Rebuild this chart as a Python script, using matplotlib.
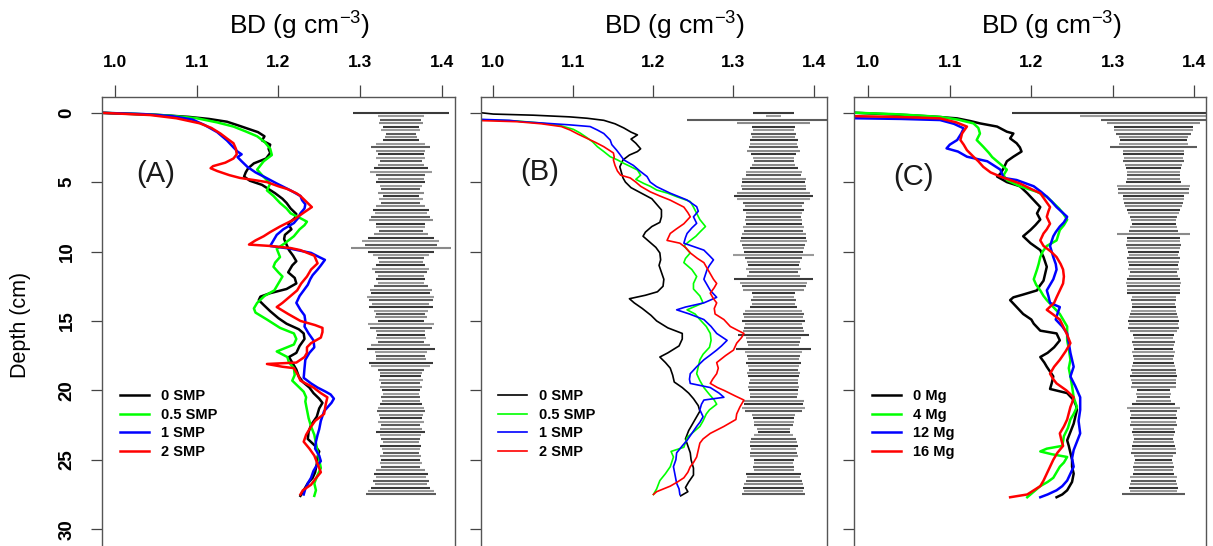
import os
os.environ.setdefault("MPLBACKEND", "Agg")
import matplotlib.pyplot as plt
import numpy as np

plt.rcParams["font.family"] = ["Liberation Sans", "DejaVu Sans"]
plt.rcParams["mathtext.fontset"] = "custom"
plt.rcParams["mathtext.rm"] = "Liberation Sans"
plt.rcParams["mathtext.default"] = "regular"

LINE_COLORS = ["black", "#00ff00", "#0000ff", "#ff0000"]
BAR_COLORS = ["#3a3a3a", "#9a9a9a", "#5c5c5c", "#8a8a8a"]
BAR_CENTER = 1.35
BAR_STEP = 0.25
XTICKS = [1.0, 1.1, 1.2, 1.3, 1.4]
XTICK_LABELS = ["1.0", "1.1", "1.2", "1.3", "1.4"]
YTICKS = [0, 5, 10, 15, 20, 25, 30]
SMP_LABELS = ["0 SMP", "0.5 SMP", "1 SMP", "2 SMP"]
MG_LABELS = ["0 Mg", "4 Mg", "12 Mg", "16 Mg"]

# (depth cm, BD g cm-3)
A_0SMP = [(0.0, 0.98), (0.05, 1.0), (0.15, 1.05), (0.3, 1.09), (0.45, 1.115), (0.65, 1.137), (0.9, 1.15), (1.1, 1.16),
          (1.4, 1.175), (1.7, 1.183), (2.0, 1.18), (2.3, 1.19), (2.6, 1.188), (2.9, 1.19), (3.3, 1.185), (3.65, 1.17),
          (4.0, 1.163), (4.3, 1.16), (4.6, 1.158), (4.9, 1.165), (5.2, 1.18), (5.5, 1.188), (5.8, 1.196), (6.2, 1.205),
          (6.5, 1.21), (6.9, 1.215), (7.3, 1.222), (7.6, 1.22), (8.0, 1.212), (8.4, 1.216), (8.8, 1.208), (9.1, 1.207),
          (9.5, 1.21), (9.9, 1.213), (10.3, 1.218), (10.7, 1.222), (11.0, 1.217), (11.5, 1.212), (11.9, 1.22),
          (12.3, 1.222), (12.7, 1.21), (13.0, 1.19), (13.25, 1.178), (13.5, 1.176), (13.85, 1.182), (14.3, 1.19),
          (14.8, 1.2), (15.2, 1.21), (15.6, 1.225), (15.9, 1.231), (16.3, 1.232), (16.8, 1.226), (17.3, 1.222),
          (17.6, 1.213), (18.0, 1.217), (18.5, 1.222), (19.0, 1.225), (19.4, 1.23), (19.8, 1.238), (20.2, 1.243),
          (20.6, 1.25), (20.9, 1.254), (21.3, 1.25), (21.9, 1.247), (22.5, 1.24), (23.0, 1.237), (23.5, 1.236),
          (24.0, 1.245), (24.4, 1.25), (24.8, 1.248), (25.3, 1.247), (25.9, 1.245), (26.3, 1.242), (26.7, 1.236),
          (27.1, 1.232), (27.6, 1.227)]
A_05SMP = [(0.0, 0.98), (0.1, 1.03), (0.2, 1.065), (0.4, 1.1), (0.7, 1.125), (1.0, 1.145), (1.35, 1.16), (1.7, 1.174),
           (2.1, 1.183), (2.6, 1.19), (3.05, 1.192), (3.5, 1.182), (3.8, 1.178), (4.1, 1.174), (4.5, 1.18), (5.1, 1.19),
           (5.6, 1.186), (6.0, 1.194), (6.5, 1.202), (6.9, 1.21), (7.25, 1.215), (7.6, 1.227), (7.85, 1.235),
           (8.1, 1.232), (8.4, 1.226), (8.9, 1.219), (9.4, 1.208), (9.8, 1.198), (10.1, 1.2), (10.4, 1.202),
           (10.8, 1.196), (11.1, 1.194), (11.5, 1.2), (11.8, 1.205), (12.3, 1.2), (12.8, 1.195), (13.2, 1.183),
           (13.7, 1.174), (14.1, 1.17), (14.4, 1.172), (14.9, 1.186), (15.5, 1.202), (15.9, 1.219), (16.3, 1.222),
           (16.7, 1.219), (17.2, 1.198), (17.6, 1.211), (18.0, 1.213), (18.4, 1.219), (18.9, 1.22), (19.3, 1.217),
           (19.7, 1.224), (20.1, 1.231), (20.5, 1.234), (20.8, 1.233), (21.4, 1.235), (22.0, 1.237), (22.6, 1.24),
           (23.2, 1.244), (23.8, 1.246), (24.4, 1.248), (25.0, 1.25), (25.6, 1.252), (26.1, 1.248), (26.7, 1.244),
           (27.2, 1.246), (27.6, 1.244)]
A_1SMP = [(0.0, 0.98), (0.1, 1.035), (0.25, 1.07), (0.5, 1.095), (0.9, 1.11), (1.4, 1.125), (2.0, 1.137), (2.5, 1.145),
          (2.8, 1.15), (3.0, 1.155), (3.2, 1.15), (3.5, 1.155), (3.9, 1.162), (4.3, 1.172), (4.6, 1.182), (5.1, 1.198),
          (5.6, 1.215), (6.0, 1.227), (6.3, 1.229), (6.6, 1.233), (6.9, 1.232), (7.25, 1.227), (7.6, 1.224),
          (7.95, 1.219), (8.4, 1.206), (8.8, 1.198), (9.2, 1.194), (9.6, 1.19), (9.8, 1.215), (10.1, 1.24),
          (10.4, 1.25), (10.6, 1.257), (11.0, 1.252), (11.3, 1.248), (11.7, 1.242), (12.0, 1.239), (12.4, 1.236),
          (12.8, 1.231), (13.2, 1.226), (13.7, 1.222), (14.2, 1.227), (14.6, 1.232), (15.0, 1.233), (15.4, 1.232),
          (15.9, 1.237), (16.4, 1.243), (16.9, 1.244), (17.3, 1.238), (17.8, 1.233), (18.4, 1.232), (19.1, 1.231),
          (19.5, 1.24), (19.8, 1.248), (20.1, 1.258), (20.3, 1.264), (20.6, 1.268), (20.9, 1.265), (21.5, 1.256),
          (22.2, 1.252), (22.8, 1.25), (23.2, 1.248), (23.7, 1.246), (24.2, 1.245), (24.7, 1.25), (25.1, 1.252),
          (25.5, 1.246), (25.8, 1.243), (26.3, 1.24), (26.7, 1.236), (27.1, 1.233), (27.5, 1.231)]
A_2SMP = [(0.0, 0.98), (0.17, 1.043), (0.4, 1.075), (0.77, 1.104), (1.1, 1.118), (1.5, 1.129), (1.9, 1.138),
          (2.2, 1.145), (2.6, 1.148), (3.0, 1.149), (3.3, 1.145), (3.6, 1.135), (3.85, 1.12), (4.0, 1.117),
          (4.2, 1.125), (4.5, 1.14), (4.7, 1.153), (4.85, 1.17), (5.0, 1.186), (5.3, 1.2), (5.5, 1.211), (5.8, 1.222),
          (6.0, 1.227), (6.4, 1.234), (6.8, 1.241), (7.0, 1.236), (7.2, 1.231), (7.7, 1.219), (8.2, 1.202),
          (8.6, 1.19), (8.9, 1.182), (9.2, 1.172), (9.5, 1.164), (9.6, 1.19), (9.75, 1.215), (9.9, 1.227),
          (10.3, 1.244), (10.85, 1.248), (11.3, 1.24), (11.8, 1.235), (12.3, 1.228), (12.8, 1.223), (13.2, 1.215),
          (13.7, 1.205), (14.0, 1.198), (14.5, 1.212), (15.0, 1.227), (15.3, 1.245), (15.5, 1.254), (15.8, 1.254),
          (16.2, 1.252), (16.6, 1.24), (16.9, 1.235), (17.3, 1.235), (17.6, 1.232), (18.0, 1.222), (18.1, 1.186),
          (18.3, 1.205), (18.4, 1.219), (18.9, 1.224), (19.3, 1.227), (19.8, 1.243), (20.2, 1.252), (20.5, 1.26),
          (21.0, 1.258), (21.7, 1.256), (22.2, 1.245), (22.7, 1.239), (23.2, 1.234), (23.7, 1.231), (24.2, 1.238),
          (24.7, 1.244), (25.3, 1.248), (25.9, 1.252), (26.4, 1.245), (26.8, 1.24), (27.2, 1.23), (27.5, 1.227)]

B_0SMP = [(0.0, 0.984), (0.1, 1.0), (0.18, 1.05), (0.3, 1.095), (0.4, 1.117), (0.55, 1.138), (0.8, 1.152), (1.1, 1.163),
          (1.4, 1.172), (1.6, 1.18), (1.9, 1.172), (2.2, 1.178), (2.6, 1.184), (2.8, 1.18), (3.05, 1.17), (3.4, 1.162),
          (3.9, 1.158), (4.3, 1.16), (4.7, 1.162), (5.0, 1.165), (5.4, 1.172), (5.8, 1.185), (6.2, 1.198), (6.6, 1.204),
          (7.0, 1.21), (7.5, 1.21), (7.9, 1.208), (8.2, 1.198), (8.6, 1.19), (8.9, 1.187), (9.3, 1.195), (9.7, 1.203),
          (10.1, 1.208), (10.6, 1.209), (11.0, 1.207), (11.5, 1.21), (12.0, 1.213), (12.5, 1.212), (12.9, 1.205),
          (13.15, 1.19), (13.4, 1.17), (13.7, 1.176), (14.1, 1.186), (14.6, 1.197), (15.0, 1.204), (15.5, 1.218),
          (15.9, 1.236), (16.3, 1.236), (16.8, 1.232), (17.3, 1.218), (17.6, 1.208), (18.0, 1.215), (18.4, 1.221),
          (18.9, 1.224), (19.4, 1.226), (19.8, 1.236), (20.2, 1.244), (20.6, 1.25), (21.1, 1.256), (21.5, 1.258),
          (21.9, 1.254), (22.4, 1.249), (22.9, 1.244), (23.5, 1.24), (24.0, 1.243), (24.5, 1.246), (25.0, 1.247),
          (25.6, 1.25), (26.1, 1.25), (26.6, 1.244), (27.0, 1.24), (27.3, 1.243), (27.6, 1.234)]
B_05SMP = [(0.5, 0.984), (0.6, 1.03), (0.75, 1.06), (0.95, 1.085), (1.2, 1.1), (1.45, 1.108), (1.8, 1.117),
           (2.1, 1.124), (2.45, 1.13), (2.8, 1.138), (3.17, 1.146), (3.4, 1.155), (3.65, 1.163), (3.9, 1.172),
           (4.13, 1.18), (4.5, 1.184), (4.8, 1.178), (5.1, 1.188), (5.3, 1.196), (5.57, 1.204), (5.8, 1.218),
           (6.05, 1.229), (6.4, 1.246), (6.8, 1.25), (7.25, 1.254), (7.7, 1.258), (8.2, 1.265), (8.6, 1.258),
           (8.9, 1.253), (9.3, 1.244), (9.6, 1.238), (10.1, 1.246), (10.5, 1.24), (10.8, 1.238), (11.3, 1.248),
           (11.8, 1.254), (12.3, 1.25), (12.7, 1.25), (13.2, 1.258), (13.7, 1.262), (14.0, 1.25), (14.2, 1.242),
           (14.5, 1.252), (14.9, 1.258), (15.4, 1.266), (15.9, 1.271), (16.4, 1.272), (16.9, 1.27), (17.4, 1.262),
           (17.8, 1.258), (18.3, 1.256), (18.8, 1.254), (19.3, 1.258), (19.8, 1.263), (20.3, 1.27), (20.7, 1.276),
           (21.0, 1.279), (21.4, 1.27), (21.7, 1.266), (22.2, 1.262), (22.6, 1.258), (23.0, 1.25), (23.4, 1.242),
           (24.1, 1.238), (24.4, 1.222), (24.8, 1.225), (25.5, 1.221), (26.0, 1.215), (26.5, 1.208), (27.1, 1.204),
           (27.5, 1.2)]
B_1SMP = [(0.48, 0.984), (0.55, 1.02), (0.64, 1.034), (0.88, 1.096), (1.0, 1.121), (1.25, 1.13), (1.5, 1.138),
          (1.97, 1.146), (2.3, 1.148), (2.7, 1.154), (3.0, 1.158), (3.4, 1.163), (3.8, 1.175), (4.2, 1.183),
          (4.6, 1.192), (5.0, 1.196), (5.33, 1.204), (5.8, 1.221), (6.29, 1.242), (6.77, 1.254), (7.1, 1.256),
          (7.5, 1.25), (7.97, 1.254), (8.3, 1.248), (8.7, 1.242), (9.0, 1.24), (9.4, 1.238), (9.9, 1.263),
          (10.3, 1.27), (10.6, 1.275), (11.0, 1.27), (11.3, 1.267), (12.0, 1.263), (12.5, 1.268), (12.8, 1.271),
          (13.3, 1.279), (13.7, 1.263), (14.0, 1.24), (14.2, 1.229), (14.5, 1.245), (14.9, 1.263), (15.4, 1.272),
          (15.9, 1.279), (16.4, 1.292), (16.8, 1.285), (17.1, 1.279), (17.5, 1.27), (17.8, 1.263), (18.3, 1.254),
          (18.8, 1.246), (19.2, 1.245), (19.5, 1.246), (19.8, 1.271), (20.2, 1.282), (20.5, 1.288), (20.7, 1.263),
          (21.0, 1.26), (21.4, 1.258), (21.9, 1.262), (22.3, 1.258), (22.6, 1.254), (23.1, 1.248), (23.6, 1.242),
          (24.0, 1.236), (24.5, 1.229), (25.0, 1.228), (25.5, 1.225), (26.1, 1.227), (26.7, 1.229), (27.1, 1.232),
          (27.5, 1.233)]
B_2SMP = [(0.57, 0.984), (0.65, 1.03), (0.8, 1.06), (1.0, 1.085), (1.25, 1.096), (1.55, 1.106), (1.85, 1.117),
          (2.15, 1.128), (2.45, 1.138), (2.9, 1.15), (3.2, 1.151), (3.4, 1.15), (3.8, 1.152), (4.2, 1.155),
          (4.5, 1.159), (4.7, 1.171), (5.0, 1.178), (5.3, 1.184), (5.7, 1.196), (6.0, 1.208), (6.3, 1.221),
          (6.8, 1.238), (7.2, 1.243), (7.5, 1.246), (8.0, 1.238), (8.4, 1.228), (8.7, 1.221), (9.2, 1.217),
          (9.4, 1.233), (9.7, 1.24), (10.1, 1.246), (10.5, 1.255), (10.8, 1.263), (11.2, 1.267), (11.6, 1.271),
          (12.0, 1.275), (12.3, 1.279), (12.6, 1.276), (13.0, 1.271), (13.4, 1.275), (13.7, 1.279), (14.1, 1.276),
          (14.5, 1.277), (14.9, 1.288), (15.4, 1.296), (15.7, 1.306), (15.9, 1.313), (16.2, 1.31), (16.6, 1.304),
          (17.1, 1.3), (17.5, 1.29), (18.0, 1.279), (18.4, 1.281), (18.8, 1.279), (19.2, 1.274), (19.5, 1.271),
          (19.8, 1.28), (20.0, 1.288), (20.4, 1.302), (20.7, 1.313), (21.2, 1.308), (21.7, 1.304), (22.1, 1.303),
          (22.6, 1.288), (23.1, 1.271), (23.5, 1.262), (23.8, 1.258), (24.3, 1.256), (24.8, 1.254), (25.2, 1.25),
          (25.5, 1.246), (25.9, 1.243), (26.3, 1.238), (26.6, 1.23), (26.9, 1.221), (27.3, 1.204), (27.5, 1.2)]

C_0MG = [(0.0, 0.982), (0.05, 1.0), (0.17, 1.047), (0.3, 1.085), (0.41, 1.109), (0.6, 1.125), (0.77, 1.137),
         (1.0, 1.158), (1.37, 1.17), (1.5, 1.178), (1.85, 1.174), (2.2, 1.182), (2.5, 1.186), (2.8, 1.188),
         (3.17, 1.178), (3.5, 1.17), (4.0, 1.166), (4.4, 1.162), (4.6, 1.158), (5.0, 1.17), (5.3, 1.186), (5.8, 1.195),
         (6.3, 1.203), (6.8, 1.211), (7.25, 1.207), (7.7, 1.211), (8.1, 1.205), (8.45, 1.199), (8.9, 1.19),
         (9.4, 1.199), (9.9, 1.211), (10.4, 1.215), (11.1, 1.219), (11.6, 1.217), (12.1, 1.215), (12.5, 1.21),
         (12.8, 1.207), (13.1, 1.19), (13.3, 1.178), (13.5, 1.174), (14.0, 1.182), (14.5, 1.19), (14.9, 1.2),
         (15.2, 1.203), (15.7, 1.211), (15.9, 1.231), (16.4, 1.235), (16.9, 1.228), (17.3, 1.22), (17.6, 1.211),
         (18.0, 1.216), (18.3, 1.219), (19.0, 1.227), (19.5, 1.225), (19.9, 1.223), (20.2, 1.244), (20.7, 1.252),
         (21.1, 1.255), (21.4, 1.256), (21.9, 1.254), (22.4, 1.252), (23.0, 1.248), (23.6, 1.244), (24.0, 1.246),
         (24.5, 1.248), (25.0, 1.25), (25.5, 1.25), (26.0, 1.252), (26.6, 1.25), (27.2, 1.244), (27.5, 1.238),
         (27.7, 1.231)]
C_4MG = [(0.0, 0.982), (0.1, 1.03), (0.2, 1.06), (0.3, 1.088), (0.5, 1.11), (0.77, 1.129), (1.1, 1.135), (1.5, 1.137),
         (1.97, 1.133), (2.45, 1.141), (2.9, 1.148), (3.2, 1.152), (3.5, 1.158), (4.1, 1.17), (4.5, 1.166),
         (4.85, 1.17), (5.3, 1.186), (5.7, 1.207), (6.05, 1.219), (6.5, 1.227), (6.9, 1.234), (7.25, 1.239),
         (7.7, 1.244), (8.1, 1.24), (8.45, 1.235), (9.2, 1.231), (9.6, 1.219), (10.0, 1.214), (10.4, 1.211),
         (10.9, 1.209), (11.3, 1.207), (12.0, 1.203), (12.4, 1.206), (12.8, 1.211), (13.2, 1.215), (13.5, 1.219),
         (14.0, 1.227), (14.5, 1.235), (15.0, 1.24), (15.4, 1.244), (16.0, 1.244), (16.4, 1.244), (17.0, 1.246),
         (17.8, 1.248), (18.4, 1.246), (19.0, 1.248), (19.7, 1.25), (20.5, 1.252), (21.2, 1.256), (21.7, 1.252),
         (22.1, 1.248), (22.7, 1.245), (23.3, 1.24), (24.0, 1.238), (24.2, 1.219), (24.4, 1.211), (24.6, 1.225),
         (24.8, 1.244), (25.2, 1.24), (25.5, 1.235), (26.0, 1.23), (26.3, 1.227), (26.6, 1.22), (26.9, 1.211),
         (27.3, 1.203), (27.7, 1.195)]
C_12MG = [(0.4, 0.982), (0.45, 1.04), (0.53, 1.088), (0.8, 1.105), (1.13, 1.117), (1.5, 1.114), (1.97, 1.109),
          (2.3, 1.1), (2.57, 1.096), (2.8, 1.11), (3.17, 1.121), (3.5, 1.146), (4.1, 1.162), (4.7, 1.166),
          (4.85, 1.182), (5.3, 1.203), (5.7, 1.212), (6.05, 1.219), (6.4, 1.225), (6.8, 1.231), (7.5, 1.244),
          (7.9, 1.24), (8.2, 1.235), (8.6, 1.23), (8.9, 1.227), (9.6, 1.223), (10.0, 1.225), (10.4, 1.227),
          (10.9, 1.23), (11.3, 1.231), (12.0, 1.227), (12.4, 1.223), (12.8, 1.219), (13.2, 1.221), (13.7, 1.223),
          (14.0, 1.235), (14.5, 1.232), (14.9, 1.23), (15.4, 1.238), (15.9, 1.244), (16.6, 1.246), (17.3, 1.248),
          (17.8, 1.25), (18.3, 1.252), (19.0, 1.248), (19.7, 1.254), (20.5, 1.26), (21.0, 1.26), (21.4, 1.26),
          (22.2, 1.258), (23.1, 1.26), (23.7, 1.256), (24.3, 1.252), (24.9, 1.25), (25.5, 1.252), (26.0, 1.248),
          (26.5, 1.244), (26.9, 1.238), (27.2, 1.231), (27.5, 1.22), (27.7, 1.211)]
C_16MG = [(0.25, 0.982), (0.3, 1.03), (0.35, 1.06), (0.41, 1.088), (0.7, 1.108), (1.0, 1.121), (1.5, 1.115),
          (1.97, 1.113), (2.3, 1.117), (2.7, 1.121), (3.17, 1.129), (3.5, 1.135), (3.9, 1.141), (4.3, 1.15),
          (4.6, 1.162), (5.1, 1.186), (5.5, 1.2), (5.8, 1.211), (6.3, 1.217), (6.8, 1.223), (7.1, 1.221), (7.5, 1.219),
          (8.0, 1.223), (8.4, 1.219), (8.7, 1.215), (9.2, 1.211), (9.6, 1.215), (10.0, 1.224), (10.4, 1.231),
          (10.9, 1.236), (11.3, 1.239), (11.8, 1.24), (12.3, 1.239), (12.8, 1.235), (13.3, 1.231), (13.7, 1.228),
          (14.2, 1.219), (14.5, 1.226), (14.9, 1.235), (15.5, 1.24), (16.0, 1.244), (16.6, 1.248), (17.2, 1.242),
          (17.8, 1.235), (18.3, 1.228), (18.8, 1.223), (19.2, 1.227), (19.5, 1.231), (20.0, 1.243), (20.5, 1.252),
          (20.9, 1.25), (21.2, 1.248), (22.1, 1.244), (22.6, 1.24), (23.1, 1.235), (23.6, 1.237), (24.0, 1.239),
          (24.5, 1.232), (25.0, 1.227), (25.5, 1.223), (26.0, 1.219), (26.5, 1.215), (26.9, 1.211), (27.2, 1.203),
          (27.5, 1.195), (27.7, 1.174)]

# half-widths of the spread bars (g cm-3), one every BAR_STEP cm from the surface
A_SPREAD = [0.059, 0.028, 0.025, 0.027, 0.022, 0.024, 0.018, 0.020, 0.022, 0.030, 0.036, 0.030, 0.028, 0.030, 0.026,
            0.028, 0.033, 0.038, 0.030, 0.028, 0.030, 0.026, 0.024, 0.028, 0.022, 0.027, 0.024, 0.030, 0.034, 0.032,
            0.036, 0.039, 0.030, 0.030, 0.027, 0.033, 0.040, 0.047, 0.044, 0.061, 0.040, 0.034, 0.028, 0.027, 0.030,
            0.035, 0.032, 0.028, 0.030, 0.028, 0.033, 0.038, 0.036, 0.041, 0.039, 0.035, 0.039, 0.033, 0.030, 0.032,
            0.028, 0.040, 0.038, 0.030, 0.029, 0.031, 0.028, 0.036, 0.042, 0.032, 0.030, 0.031, 0.039, 0.036, 0.028,
            0.026, 0.025, 0.027, 0.024, 0.026, 0.023, 0.022, 0.024, 0.023, 0.026, 0.028, 0.029, 0.027, 0.026, 0.028,
            0.024, 0.026, 0.030, 0.025, 0.024, 0.022, 0.025, 0.023, 0.022, 0.025, 0.024, 0.026, 0.024, 0.030, 0.033,
            0.031, 0.034, 0.032, 0.036, 0.040, 0.043]
B_SPREAD = [0.026, 0.009, 0.108, 0.046, 0.027, 0.026, 0.028, 0.027, 0.030, 0.029, 0.031, 0.033, 0.028, 0.026, 0.025,
            0.027, 0.030, 0.035, 0.034, 0.040, 0.039, 0.041, 0.040, 0.045, 0.049, 0.046, 0.038, 0.036, 0.038, 0.035,
            0.034, 0.036, 0.035, 0.038, 0.037, 0.040, 0.041, 0.042, 0.039, 0.038, 0.037, 0.050, 0.036, 0.033, 0.032,
            0.034, 0.031, 0.033, 0.049, 0.042, 0.040, 0.038, 0.027, 0.026, 0.028, 0.027, 0.029, 0.036, 0.038, 0.037,
            0.039, 0.036, 0.037, 0.038, 0.044, 0.034, 0.033, 0.032, 0.047, 0.036, 0.033, 0.032, 0.034, 0.032, 0.031,
            0.033, 0.032, 0.030, 0.031, 0.032, 0.031, 0.030, 0.029, 0.038, 0.037, 0.039, 0.036, 0.027, 0.026, 0.025,
            0.024, 0.021, 0.020, 0.024, 0.028, 0.029, 0.030, 0.028, 0.029, 0.030, 0.025, 0.024, 0.026, 0.025, 0.034,
            0.033, 0.035, 0.037, 0.038, 0.037, 0.039]
C_SPREAD = [0.174, 0.090, 0.065, 0.057, 0.049, 0.048, 0.046, 0.042, 0.041, 0.042, 0.053, 0.038, 0.037, 0.036, 0.038,
            0.035, 0.034, 0.033, 0.032, 0.033, 0.034, 0.045, 0.044, 0.043, 0.038, 0.037, 0.036, 0.035, 0.033, 0.031,
            0.029, 0.028, 0.027, 0.029, 0.030, 0.045, 0.033, 0.032, 0.034, 0.033, 0.031, 0.030, 0.032, 0.031, 0.030,
            0.031, 0.029, 0.030, 0.033, 0.034, 0.032, 0.033, 0.032, 0.027, 0.028, 0.026, 0.027, 0.028, 0.029, 0.030,
            0.031, 0.030, 0.031, 0.029, 0.025, 0.024, 0.026, 0.025, 0.024, 0.026, 0.025, 0.024, 0.025, 0.026, 0.028,
            0.027, 0.029, 0.028, 0.027, 0.028, 0.020, 0.021, 0.020, 0.022, 0.026, 0.033, 0.029, 0.028, 0.029, 0.028,
            0.029, 0.025, 0.026, 0.025, 0.024, 0.025, 0.026, 0.027, 0.028, 0.024, 0.023, 0.024, 0.025, 0.024, 0.025,
            0.029, 0.028, 0.029, 0.030, 0.029, 0.039]

W, H = 1213, 546
PANELS = [
    dict(tag="(A)", series=[A_0SMP, A_05SMP, A_1SMP, A_2SMP], labels=SMP_LABELS, spread=A_SPREAD,
         px=(102, 455), xlim=(0.984, 1.4163), lw=1.8, tag_xy=(1.05, 4.4), leg_x=120, ylabels=True),
    dict(tag="(B)", series=[B_0SMP, B_05SMP, B_1SMP, B_2SMP], labels=SMP_LABELS, spread=B_SPREAD,
         px=(481, 827), xlim=(0.9846, 1.4168), lw=1.2, tag_xy=(1.058, 4.25), leg_x=498, ylabels=False),
    dict(tag="(C)", series=[C_0MG, C_4MG, C_12MG, C_16MG], labels=MG_LABELS, spread=C_SPREAD,
         px=(854, 1206), xlim=(0.9824, 1.4144), lw=1.8, tag_xy=(1.055, 4.6), leg_x=872, ylabels=False),
]
TOP, BOTTOM = 97, 550
YLIM = (31.5, -1.13)


def draw_panel(fig, spec):
    left, right = spec["px"]
    ax = fig.add_axes([left/W, 1-BOTTOM/H, (right-left)/W, (BOTTOM-TOP)/H])
    ax.set_xlim(*spec["xlim"]); ax.set_ylim(*YLIM)

    spread = np.array(spec["spread"])
    depth = np.arange(len(spread)) * BAR_STEP
    colors = [BAR_COLORS[i % len(BAR_COLORS)] for i in range(len(spread))]
    ax.hlines(depth, BAR_CENTER - spread, BAR_CENTER + spread, colors=colors, lw=1.5)

    for pairs, color, label in zip(spec["series"], LINE_COLORS, spec["labels"]):
        d, v = zip(*pairs)
        ax.plot(v, d, color=color, lw=spec["lw"], label=label)

    ax.text(*spec["tag_xy"], spec["tag"], fontsize=21, ha="center", va="center", color="#1a1a1a")
    ax.legend(frameon=False, loc="upper left", bbox_to_anchor=((spec["leg_x"]-left)/(right-left), 1-(389-TOP)/(BOTTOM-TOP)),
              borderaxespad=0, borderpad=0, handlelength=2.0, handletextpad=0.8, labelspacing=0.32,
              prop={"weight": "bold", "size": 10.5})

    ax.xaxis.tick_top()
    ax.set_xticks(XTICKS, XTICK_LABELS, fontweight="bold")
    ax.tick_params(axis="x", length=8.5, width=0.9, pad=11, labelsize=12.5, color="#444444")
    ax.set_yticks(YTICKS)
    if spec["ylabels"]:
        ax.set_yticklabels([str(t) for t in YTICKS], rotation=90, va="center", fontweight="bold")
    else:
        ax.tick_params(axis="y", labelleft=False)
    ax.tick_params(axis="y", length=8, width=0.9, pad=11, labelsize=13.5, color="#444444")
    for spine in ax.spines.values():
        spine.set_color("#555555"); spine.set_linewidth(1.0)

    cx = (left + 0.56*(right-left)) / W
    fig.text(cx, 1-35/H, r"BD (g cm$^{-3}$)", ha="center", va="baseline", fontsize=19)


def main():
    fig = plt.figure(figsize=(W/100, H/100), dpi=100)
    for spec in PANELS:
        draw_panel(fig, spec)
    fig.text(21/W, 1-325/H, "Depth (cm)", rotation=90, ha="center", va="center", fontsize=15.5)
    fig.savefig("out.png", dpi=100)
    plt.close(fig)


if __name__ == "__main__": main()
